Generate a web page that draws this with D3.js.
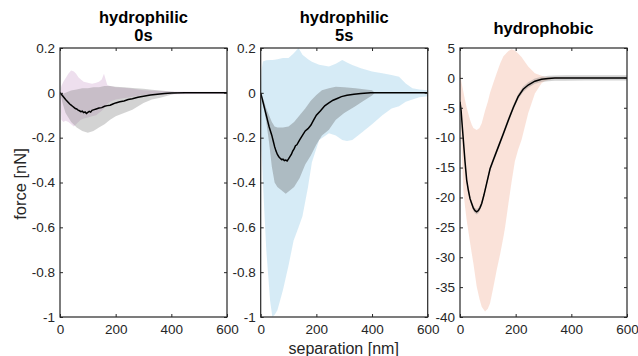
<!DOCTYPE html>
<html>
<head>
<meta charset="utf-8">
<script src="https://cdn.jsdelivr.net/npm/d3@7"></script>
<style>
  body { margin: 0; background: #fff; }
  svg { display: block; font-family: "Liberation Sans", Arial, sans-serif; }
</style>
</head>
<body>
<svg id="chart" width="638" height="356"></svg>
<script>
// ---- data ----
const xTicks = [0, 200, 400, 600];
const yTicksPhilic = [0.2, 0, -0.2, -0.4, -0.6, -0.8, -1];
const yTicksPhobic = [5, 0, -5, -10, -15, -20, -25, -30, -35, -40];

// hydrophilic 0s
const p0PinkX  = [0, 5, 12, 20, 30, 40, 50, 58, 66, 75, 85, 100, 115, 130, 140, 150, 158, 164, 170, 180, 200, 250, 300, 400, 500, 600];
const p0PinkHi = [0, 0.03, 0.05, 0.065, 0.085, 0.1, 0.095, 0.085, 0.07, 0.06, 0.05, 0.045, 0.04, 0.045, 0.05, 0.06, 0.085, 0.06, 0.035, 0.03, 0.025, 0.02, 0.012, 0.006, 0.005, 0.005];
const p0PinkLo = [0, -0.12, -0.13, -0.125, -0.13, -0.14, -0.15, -0.14, -0.13, -0.12, -0.115, -0.11, -0.105, -0.1, -0.09, -0.08, -0.07, -0.06, -0.05, -0.04, -0.03, -0.02, -0.01, -0.006, -0.005, -0.005];
const p0GrayX  = [0, 10, 20, 40, 60, 80, 100, 120, 140, 160, 180, 200, 230, 260, 300, 330, 360, 390, 420];
const p0GrayHi = [0, -0.005, 0, 0.01, 0.015, 0.02, 0.02, 0.025, 0.025, 0.03, 0.03, 0.027, 0.025, 0.022, 0.018, 0.014, 0.01, 0.007, 0.003];
const p0GrayLo = [0, -0.05, -0.09, -0.13, -0.155, -0.17, -0.178, -0.17, -0.155, -0.14, -0.12, -0.105, -0.09, -0.075, -0.045, -0.03, -0.022, -0.012, -0.002];
const p0MeanX  = [0, 5, 10, 15, 20, 25, 30, 35, 40, 45, 50, 55, 60, 65, 70, 75, 80, 85, 90, 95, 100, 105, 110, 115, 120, 130, 140, 150, 160, 170, 180, 190, 200, 215, 230, 245, 260, 280, 300, 325, 350, 375, 400, 450, 600];
const p0MeanY  = [0, -0.006, -0.014, -0.022, -0.03, -0.036, -0.043, -0.05, -0.055, -0.06, -0.065, -0.07, -0.072, -0.077, -0.08, -0.084, -0.082, -0.088, -0.085, -0.092, -0.087, -0.083, -0.086, -0.078, -0.076, -0.072, -0.068, -0.066, -0.06, -0.057, -0.055, -0.05, -0.045, -0.04, -0.036, -0.03, -0.026, -0.02, -0.015, -0.01, -0.006, -0.003, -0.001, 0, 0];

// hydrophilic 5s
const p5BlueX  = [0, 3, 8, 20, 34, 42, 50, 60, 80, 100, 118, 136, 150, 170, 184, 210, 245, 270, 293, 310, 329, 360, 400, 437, 470, 497, 521, 545, 570, 600];
const p5BlueHi = [0, 0.1, 0.14, 0.145, 0.146, 0.147, 0.148, 0.15, 0.155, 0.155, 0.175, 0.2, 0.17, 0.15, 0.139, 0.125, 0.117, 0.13, 0.146, 0.135, 0.124, 0.11, 0.095, 0.087, 0.08, 0.072, 0.042, 0.02, 0.015, 0.012];
const p5BlueLo = [0, -0.25, -0.4, -0.7, -0.93, -1.0, -0.99, -0.97, -0.88, -0.77, -0.66, -0.6, -0.55, -0.42, -0.31, -0.21, -0.18, -0.19, -0.21, -0.215, -0.21, -0.18, -0.14, -0.1, -0.07, -0.06, -0.04, -0.03, -0.02, -0.015];
const p5GrayX  = [0, 10, 20, 30, 40, 50, 60, 70, 80, 90, 100, 110, 120, 140, 160, 180, 200, 220, 245, 270, 300, 340, 370, 400, 410];
const p5GrayHi = [0, -0.03, -0.07, -0.1, -0.13, -0.15, -0.155, -0.155, -0.155, -0.152, -0.15, -0.14, -0.13, -0.1, -0.07, -0.035, -0.01, 0.012, 0.02, 0.027, 0.025, 0.02, 0.016, 0.012, 0];
const p5GrayLo = [0, -0.06, -0.13, -0.22, -0.33, -0.4, -0.42, -0.43, -0.44, -0.45, -0.44, -0.43, -0.42, -0.38, -0.32, -0.28, -0.23, -0.19, -0.165, -0.12, -0.09, -0.06, -0.035, -0.012, 0];
const p5MeanX  = [0, 5, 10, 15, 20, 25, 30, 35, 40, 45, 50, 55, 60, 65, 70, 75, 80, 85, 90, 95, 100, 105, 110, 115, 120, 125, 130, 140, 150, 160, 170, 180, 190, 200, 215, 230, 245, 260, 275, 290, 310, 335, 360, 395, 600];
const p5MeanY  = [0, -0.025, -0.05, -0.075, -0.1, -0.125, -0.15, -0.17, -0.19, -0.215, -0.24, -0.26, -0.275, -0.285, -0.292, -0.298, -0.296, -0.302, -0.3, -0.304, -0.295, -0.285, -0.275, -0.26, -0.25, -0.236, -0.232, -0.21, -0.19, -0.17, -0.16, -0.145, -0.122, -0.1, -0.08, -0.058, -0.045, -0.033, -0.025, -0.017, -0.011, -0.006, -0.003, 0, 0];

// hydrophobic
const pbOrangeX  = [0, 6, 12, 18, 24, 36, 42, 48, 60, 70, 78, 90, 100, 108, 120, 132, 145, 156, 162, 174, 185, 197, 209, 221, 245, 269, 293, 305, 329, 360, 400, 600];
const pbOrangeHi = [0.8, -0.9, -2.3, -3.7, -5, -7, -7.8, -8.4, -8.7, -8.4, -7.6, -5.5, -4, -2.5, -0.8, 0.8, 2.5, 3.6, 3.9, 4.5, 4.8, 4.6, 4.1, 3.5, 1.9, 0.77, 0.35, 0.2, 0.1, 0.05, 0.02, 0];
const pbOrangeLo = [-4, -12, -18.8, -21.5, -23.8, -27.5, -29.3, -31, -34.9, -37, -38.3, -39.1, -38.6, -37.7, -35, -32.1, -29.3, -26.6, -25, -21, -17.5, -14, -12, -10.4, -5.9, -2.6, -0.9, -0.5, -0.24, -0.1, -0.03, 0];
const pbMeanX  = [0, 4, 8, 12, 18, 24, 30, 36, 42, 48, 54, 60, 66, 72, 78, 86, 96, 108, 120, 138, 156, 174, 192, 209, 227, 245, 269, 293, 317, 341, 380, 450, 600];
const pbMeanY  = [-4, -5.5, -8, -10.4, -14, -17.1, -18.8, -20.2, -21, -21.8, -22.2, -22.4, -22.2, -21.7, -21, -19.6, -17.6, -15.2, -13.7, -11.5, -9.3, -7.05, -4.9, -3.14, -1.9, -1.19, -0.55, -0.24, -0.1, -0.03, -0.01, 0, 0];
const pbSemHalf = 0.45;

// ---- layout ----
const svg = d3.select("#chart");
const plotTop = 48, plotBottom = 317, plotW = 167;
const ink = "#262626";

function zip(xs, ...cols) {
  return xs.map((x, i) => ({ x: x, v: cols.map(c => c[i]) }));
}

const panels = [
  {
    left: 60, title: ["hydrophilic", "0s"], yDomain: [-1, 0.2], yTicks: yTicksPhilic,
    bands: [
      { data: zip(p0PinkX, p0PinkLo, p0PinkHi), fill: "#d9b8d9", op: 0.45 },
      { data: zip(p0GrayX, p0GrayLo, p0GrayHi), fill: "#808080", op: 0.35 }
    ],
    mean: zip(p0MeanX, p0MeanY)
  },
  {
    left: 260.7, title: ["hydrophilic", "5s"], yDomain: [-1, 0.2], yTicks: yTicksPhilic,
    bands: [
      { data: zip(p5BlueX, p5BlueLo, p5BlueHi), fill: "#5aaedc", op: 0.25 },
      { data: zip(p5GrayX, p5GrayLo, p5GrayHi), fill: "#606060", op: 0.35 }
    ],
    mean: zip(p5MeanX, p5MeanY)
  },
  {
    left: 460, title: ["hydrophobic"], yDomain: [-40, 5], yTicks: yTicksPhobic,
    bands: [
      { data: zip(pbOrangeX, pbOrangeLo, pbOrangeHi), fill: "#f0a080", op: 0.3 },
      { data: zip(pbMeanX, pbMeanY.map(v => v - pbSemHalf), pbMeanY.map(v => v + pbSemHalf)), fill: "#808080", op: 0.35 }
    ],
    mean: zip(pbMeanX, pbMeanY)
  }
];

panels.forEach((p, pi) => {
  const x = d3.scaleLinear().domain([0, 600]).range([p.left, p.left + plotW]);
  const y = d3.scaleLinear().domain(p.yDomain).range([plotBottom, plotTop]);

  const clipId = "clip" + pi;
  svg.append("clipPath").attr("id", clipId)
    .append("rect").attr("x", p.left).attr("y", plotTop).attr("width", plotW).attr("height", plotBottom - plotTop);

  const g = svg.append("g").attr("clip-path", `url(#${clipId})`);

  p.bands.forEach(b => {
    g.append("path")
      .datum(b.data)
      .attr("d", d3.area().x(d => x(d.x)).y0(d => y(d.v[0])).y1(d => y(d.v[1])))
      .attr("fill", b.fill)
      .attr("fill-opacity", b.op)
      .attr("stroke", "none");
  });

  g.append("path")
    .datum(p.mean)
    .attr("d", d3.line().x(d => x(d.x)).y(d => y(d.v[0])))
    .attr("fill", "none")
    .attr("stroke", "#000")
    .attr("stroke-width", 1.5);

  // axes, ticks inward on all four sides
  const fmt = v => String(v);
  const axL = svg.append("g").attr("transform", `translate(${p.left},0)`)
    .call(d3.axisLeft(y).tickValues(p.yTicks).tickFormat(fmt).tickSizeInner(-3).tickSizeOuter(0).tickPadding(5));
  const axR = svg.append("g").attr("transform", `translate(${p.left + plotW},0)`)
    .call(d3.axisRight(y).tickValues(p.yTicks).tickFormat("").tickSizeInner(-3).tickSizeOuter(0));
  const axB = svg.append("g").attr("transform", `translate(0,${plotBottom})`)
    .call(d3.axisBottom(x).tickValues(xTicks).tickFormat(fmt).tickSizeInner(-3).tickSizeOuter(0).tickPadding(7.5));
  const axT = svg.append("g").attr("transform", `translate(0,${plotTop})`)
    .call(d3.axisTop(x).tickValues(xTicks).tickFormat("").tickSizeInner(-3).tickSizeOuter(0));

  [axL, axR, axB, axT].forEach(a => {
    a.select(".domain").remove();
    a.selectAll("line").attr("stroke", ink).attr("stroke-width", 1);
    a.selectAll("text").attr("fill", ink).attr("font-size", 13.5)
      .attr("font-family", "'Liberation Sans', Arial, sans-serif");
  });

  svg.append("rect")
    .attr("x", p.left).attr("y", plotTop).attr("width", plotW).attr("height", plotBottom - plotTop)
    .attr("fill", "none").attr("stroke", ink).attr("stroke-width", 1.2);

  const cx = p.left + plotW / 2;
  const titleBase = p.title.length === 2 ? [22.5, 41] : [33.5];
  p.title.forEach((t, i) => {
    svg.append("text").attr("x", cx).attr("y", titleBase[i])
      .attr("text-anchor", "middle").attr("font-weight", "bold").attr("font-size", 16.5)
      .attr("fill", "#000").text(t);
  });
});

svg.append("text")
  .attr("transform", "translate(26,184) rotate(-90)")
  .attr("text-anchor", "middle").attr("font-size", 16.5).attr("fill", ink)
  .text("force [nN]");

svg.append("text")
  .attr("x", 343.7).attr("y", 353.5)
  .attr("text-anchor", "middle").attr("font-size", 16).attr("fill", ink)
  .text("separation [nm]");
</script>
</body>
</html>
